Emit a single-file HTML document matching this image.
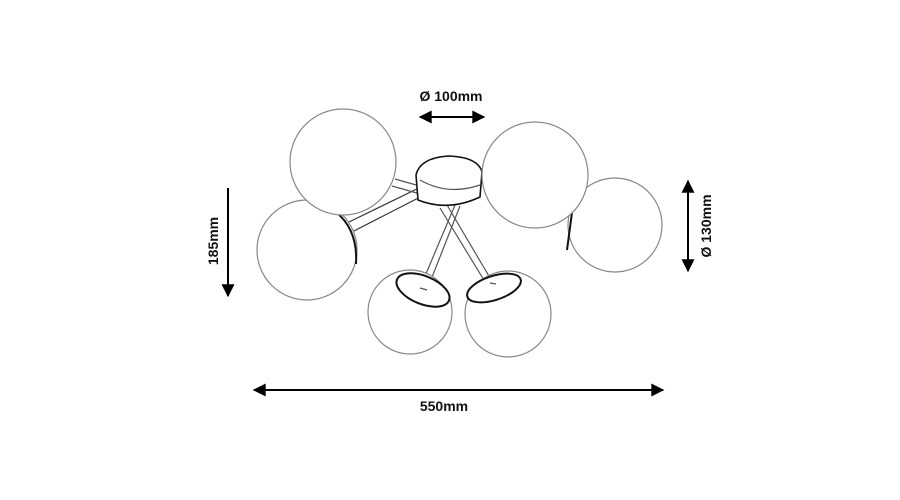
<!DOCTYPE html>
<html><head><style>body{margin:0;background:#fff}svg{display:block}text{font-family:"Liberation Sans",sans-serif;font-weight:bold;font-size:14px;fill:#111}</style></head><body>
<svg width="900" height="500" viewBox="0 0 900 500">
<defs>
<marker id="b" viewBox="0 0 10 10" markerWidth="15" markerHeight="13" refX="9" refY="5" orient="auto-start-reverse" markerUnits="userSpaceOnUse"><path d="M0,0 L10,5 L0,10 Z" fill="#000"/></marker></defs>
<g stroke="#555" stroke-width="1.2" fill="none">
<path d="M352,232 L428,193 M349,222 L425,185" stroke="#333"/>
<path d="M392,186 L452,203 M395,179 L455,196"/>
<path d="M420,288 L455,205 M427,290 L460,206"/>
<path d="M440,208 L490,290 M447,205 L496,288"/>
<path d="M416,175 Q420,158 448,156 Q478,157 482,172 L480,197 Q448,212 418,200 Z" fill="#fff" stroke="#111" stroke-width="1.6"/>
<path d="M420,180 Q448,196 480,185"/>
<g stroke="#888">
<circle cx="307" cy="250" r="50" fill="#fff"/>
</g>
<path d="M336,212 Q358,230 356,264" stroke="#111" stroke-width="2"/>
<g stroke="#888">
<circle cx="343" cy="162" r="53" fill="#fff"/>
<circle cx="615" cy="225" r="47" fill="#fff"/>
</g>
<path d="M573,205 L567,250" stroke="#111" stroke-width="2"/>
<g stroke="#888">
<circle cx="535" cy="175" r="53" fill="#fff"/>
<circle cx="410" cy="312" r="42" fill="#fff"/>
<circle cx="508" cy="314" r="43" fill="#fff"/>
</g>
<ellipse cx="423" cy="290" rx="28" ry="14" transform="rotate(22 423 290)" fill="#fff" stroke="#111" stroke-width="2"/>
<ellipse cx="494" cy="288" rx="28" ry="12" transform="rotate(-18 494 288)" fill="#fff" stroke="#111" stroke-width="2"/>
<path d="M420,288 L427,290 M490,283 L496,284"/>
</g>
<g stroke="#000" stroke-width="2">
<line x1="420" y1="117" x2="484" y2="117" marker-start="url(#b)" marker-end="url(#b)"/>
<line x1="228" y1="188" x2="228" y2="296" marker-end="url(#b)"/>
<line x1="688" y1="181" x2="688" y2="271" marker-start="url(#b)" marker-end="url(#b)"/>
<line x1="254" y1="390" x2="663" y2="390" marker-start="url(#b)" marker-end="url(#b)"/>
</g>
<text x="451" y="101" text-anchor="middle">Ø 100mm</text>
<text x="444" y="411" text-anchor="middle">550mm</text>
<text transform="translate(218,241) rotate(-90)" text-anchor="middle">185mm</text>
<text transform="translate(711,226) rotate(-90)" text-anchor="middle">Ø 130mm</text>
</svg>
</body></html>
